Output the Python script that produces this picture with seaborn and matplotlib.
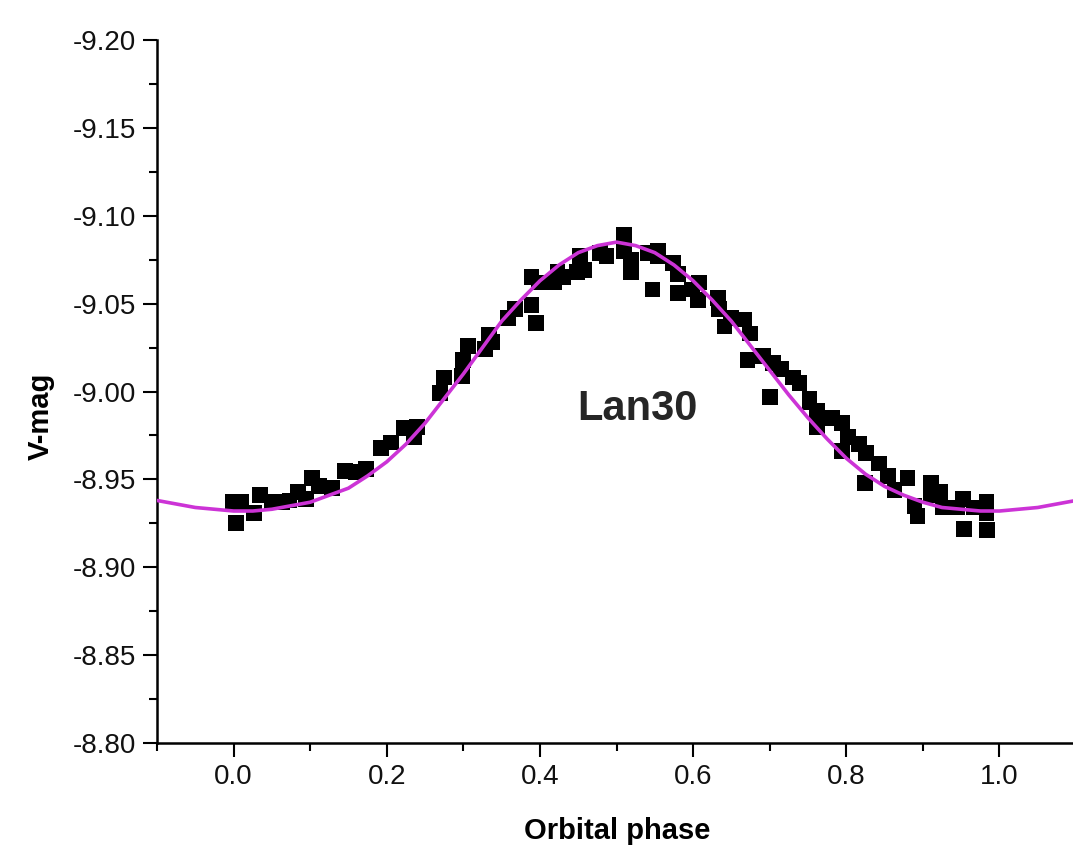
import numpy as np
import pandas as pd
import matplotlib
matplotlib.use("Agg")
import matplotlib.pyplot as plt
import seaborn as sns
from matplotlib.ticker import MultipleLocator, FormatStrFormatter

phase = [-0.001, 0.010, 0.003, 0.034, 0.027, 0.050, 0.063, 0.073, 0.084, 0.095,
         0.102, 0.112, 0.128, 0.145, 0.160, 0.173, 0.193, 0.206, 0.223, 0.239,
         0.236, 0.269, 0.275, 0.298, 0.299, 0.306, 0.328, 0.334, 0.338, 0.358,
         0.367, 0.389, 0.395, 0.389, 0.399, 0.419, 0.423, 0.430, 0.448, 0.452,
         0.458, 0.478, 0.487, 0.510, 0.510, 0.519, 0.519, 0.541, 0.554, 0.547,
         0.554, 0.574, 0.580, 0.580, 0.599, 0.608, 0.606, 0.632, 0.634, 0.641,
         0.650, 0.667, 0.674, 0.671, 0.691, 0.704, 0.715, 0.700, 0.730, 0.739,
         0.752, 0.752, 0.762, 0.762, 0.781, 0.794, 0.794, 0.802, 0.817, 0.826,
         0.824, 0.843, 0.854, 0.863, 0.880, 0.889, 0.893, 0.911, 0.911, 0.922,
         0.926, 0.944, 0.952, 0.954, 0.967, 0.983, 0.983, 0.984]
vmag = [-8.937, -8.937, -8.925, -8.941, -8.931, -8.937, -8.937, -8.938, -8.943, -8.939,
        -8.951, -8.946, -8.945, -8.955, -8.954, -8.956, -8.968, -8.971, -8.979, -8.980,
        -8.974, -8.999, -9.008, -9.009, -9.018, -9.026, -9.024, -9.032, -9.028, -9.042,
        -9.047, -9.049, -9.039, -9.065, -9.062, -9.062, -9.068, -9.065, -9.068, -9.077,
        -9.069, -9.079, -9.077, -9.089, -9.080, -9.075, -9.068, -9.079, -9.080, -9.058,
        -9.077, -9.073, -9.067, -9.056, -9.058, -9.062, -9.052, -9.053, -9.047, -9.037,
        -9.042, -9.041, -9.033, -9.018, -9.020, -9.016, -9.013, -8.997, -9.008, -9.005,
        -8.994, -8.996, -8.989, -8.980, -8.985, -8.982, -8.966, -8.974, -8.970, -8.965,
        -8.948, -8.959, -8.952, -8.944, -8.951, -8.935, -8.929, -8.948, -8.941, -8.943,
        -8.934, -8.934, -8.939, -8.922, -8.934, -8.937, -8.931, -8.921]

# fitted model curve
curve_phase = [-0.100, -0.075, -0.050, -0.025, 0.000, 0.025, 0.050, 0.075, 0.100, 0.125,
               0.150, 0.175, 0.200, 0.225, 0.250, 0.275, 0.300, 0.325, 0.350, 0.375,
               0.400, 0.425, 0.450, 0.475, 0.500, 0.525, 0.550, 0.575, 0.600, 0.625,
               0.650, 0.675, 0.700, 0.725, 0.750, 0.775, 0.800, 0.825, 0.850, 0.875,
               0.900, 0.925, 0.950, 0.975, 1.000, 1.025, 1.050, 1.075, 1.100]
curve_vmag = [-8.938, -8.936, -8.934, -8.933, -8.932, -8.932, -8.933, -8.935, -8.937, -8.941,
              -8.945, -8.952, -8.960, -8.970, -8.982, -8.996, -9.010, -9.025, -9.040, -9.052,
              -9.063, -9.072, -9.079, -9.083, -9.085, -9.083, -9.079, -9.072, -9.063, -9.052,
              -9.040, -9.026, -9.012, -8.998, -8.985, -8.973, -8.962, -8.953, -8.946, -8.941,
              -8.937, -8.934, -8.933, -8.932, -8.932, -8.933, -8.934, -8.936, -8.938]

sns.set_style("ticks")
plt.rcParams['font.family'] = ['Liberation Sans', 'DejaVu Sans']
plt.rcParams['axes.unicode_minus'] = False

obs = pd.DataFrame({'phase': phase, 'vmag': vmag})
fit = pd.DataFrame({'phase': curve_phase, 'vmag': curve_vmag})

fig = plt.figure(figsize=(10.73, 8.47), dpi=100)
ax = fig.add_axes([157 / 1073, 1 - 743 / 847, 916 / 1073, 703 / 847])

sns.scatterplot(data=obs, x='phase', y='vmag', marker='s', s=130, color='black',
                edgecolor='none', ax=ax, zorder=2)
sns.lineplot(data=fit, x='phase', y='vmag', color='#cc33d6', lw=2.6, sort=False,
             ax=ax, zorder=3)

ax.set_xlim(-0.1, 1.096)
ax.set_ylim(-8.80, -9.20)

ax.xaxis.set_major_locator(MultipleLocator(0.2))
ax.xaxis.set_minor_locator(MultipleLocator(0.1))
ax.yaxis.set_major_locator(MultipleLocator(0.05))
ax.yaxis.set_minor_locator(MultipleLocator(0.025))
ax.xaxis.set_major_formatter(FormatStrFormatter('%.1f'))
ax.yaxis.set_major_formatter(FormatStrFormatter('%.2f'))

ax.tick_params(which='major', direction='out', length=10, width=1.5, labelsize=20,
               color='black', labelcolor='#111111', pad=5)
ax.tick_params(which='minor', direction='out', length=5.5, width=1.5, color='black')

sns.despine(ax=ax)
for side in ['left', 'bottom']:
    ax.spines[side].set_linewidth(1.8)
    ax.spines[side].set_color('black')

ax.set_xlabel('Orbital phase', fontsize=21, fontweight='bold', color='black')
ax.set_ylabel('V-mag', fontsize=21, fontweight='bold', color='black')
ax.xaxis.set_label_coords(0.502, -0.105)
ax.yaxis.set_label_coords(-0.112, 0.465)

ax.text(0.527, -8.99, 'Lan30', fontsize=30, fontweight='bold', ha='center', va='center')

fig.savefig('out.png', dpi=100)
